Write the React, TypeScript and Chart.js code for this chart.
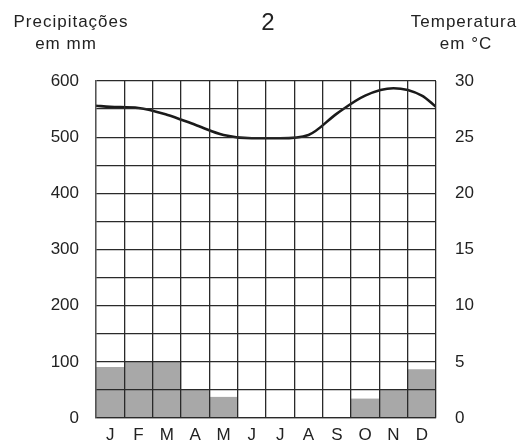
import React, { useEffect, useRef } from "react";
import { Chart, registerables } from "chart.js";

Chart.register(...registerables);

const months = ["J", "F", "M", "A", "M", "J", "J", "A", "S", "O", "N", "D"];
const precipitation = [90, 100, 100, 50, 37, 0, 0, 0, 0, 34, 50, 86];
const temperature = [27.7, 27.6, 27.0, 26.1, 25.2, 24.9, 24.9, 25.2, 27.1, 28.7, 29.35, 28.7];
const tempStartEdge = 27.8;
const tempEndEdge = 27.7;
const precipTicks = [0, 100, 200, 300, 400, 500, 600];

const FONT = "'Liberation Sans', Arial, sans-serif";

export default function App() {
  const ref = useRef<HTMLCanvasElement | null>(null);

  useEffect(() => {
    if (!ref.current) return;
    const linePts = [
      { x: 0, y: tempStartEdge },
      ...temperature.map((t, i) => ({ x: i + 0.5, y: t })),
      { x: 12, y: tempEndEdge },
    ];
    const chart = new Chart(ref.current, {
      type: "bar",
      data: {
        labels: months,
        datasets: [
          {
            type: "line",
            data: linePts as any,
            xAxisID: "x2",
            yAxisID: "y1",
            borderColor: "#1a1a1a",
            borderWidth: 2.6,
            pointRadius: 0,
            cubicInterpolationMode: "monotone",
            fill: false,
            order: 0,
          } as any,
          {
            type: "bar",
            data: precipitation,
            xAxisID: "x",
            yAxisID: "y",
            backgroundColor: "#a8a8a8",
            borderWidth: 0,
            barPercentage: 1,
            categoryPercentage: 1,
            grouped: false,
            order: 1,
          },
        ],
      },
      options: {
        animation: false,
        responsive: true,
        maintainAspectRatio: false,
        layout: { padding: { top: 81, left: 0, right: 0, bottom: 0 } },
        plugins: { legend: { display: false }, tooltip: { enabled: false }, title: { display: false } },
        scales: {
          x: {
            type: "category",
            offset: true,
            grid: { offset: true, color: "#2a2a2a", lineWidth: 1.3, drawTicks: false, z: 1 },
            border: { display: true, color: "#555", width: 1.3, z: 1 },
            ticks: { color: "#222", padding: 7, font: { family: FONT, size: 17 }, maxRotation: 0, autoSkip: false },
            afterFit: (s: any) => { s.height = 30; },
          },
          x2: {
            type: "linear",
            min: 0,
            max: 12,
            offset: false,
            display: false,
          },
          y: {
            type: "linear",
            position: "left",
            min: 0,
            max: 600,
            grid: { color: "#2a2a2a", lineWidth: 1.3, drawTicks: false, z: 1 },
            border: { display: true, color: "#555", width: 1.3, z: 1 },
            ticks: {
              stepSize: 50,
              color: "#222",
              padding: 17,
              font: { family: FONT, size: 17 },
              callback: (v: any) => (precipTicks.includes(Number(v)) ? String(v) : ""),
            },
            afterFit: (s: any) => { s.width = 96; },
          },
          y1: {
            type: "linear",
            position: "right",
            min: 0,
            max: 30,
            grid: { display: false, drawTicks: false },
            border: { display: false },
            ticks: { stepSize: 5, color: "#222", padding: 19, font: { family: FONT, size: 17 } },
            afterFit: (s: any) => { s.width = 84; },
          },
        },
      },
    });
    return () => chart.destroy();
  }, []);

  const txt: React.CSSProperties = {
    position: "absolute",
    fontFamily: FONT,
    fontSize: 17,
    lineHeight: "22px",
    color: "#222",
    whiteSpace: "nowrap",
    transform: "translateX(-50%)",
    letterSpacing: "1px",
  };

  return (
    <div style={{ position: "absolute", left: 0, top: 0, width: 520, height: 448, background: "#fff" }}>
      <canvas ref={ref} />
      <div style={{ ...txt, left: 71, top: 11 }}>Precipitações</div>
      <div style={{ ...txt, left: 66, top: 33 }}>em mm</div>
      <div style={{ ...txt, left: 268, top: 10, fontSize: 24, lineHeight: "24px", letterSpacing: 0 }}>2</div>
      <div style={{ ...txt, left: 464, top: 11 }}>Temperatura</div>
      <div style={{ ...txt, left: 466, top: 33 }}>em °C</div>
    </div>
  );
}
